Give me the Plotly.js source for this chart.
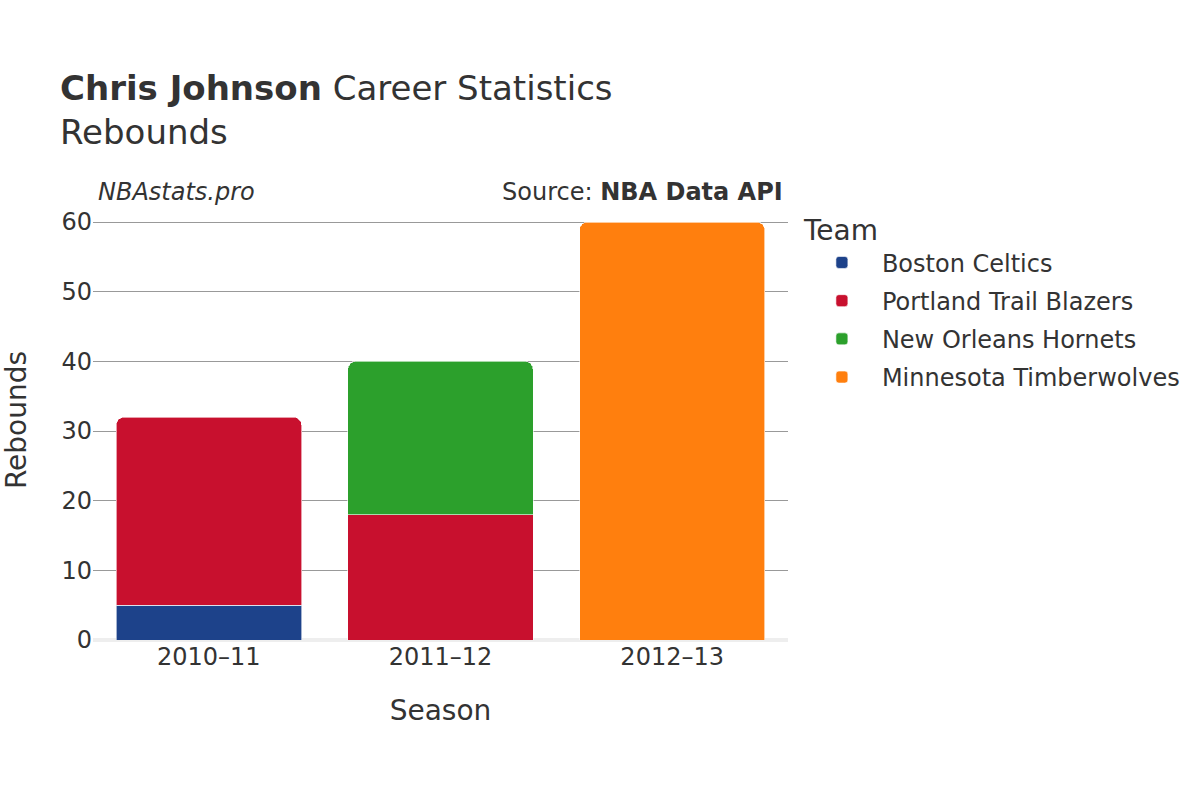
<!DOCTYPE html>
<html>
<head>
<meta charset="utf-8">
<script src="https://cdn.plot.ly/plotly-3.0.1.min.js"></script>
<style>html,body{margin:0;padding:0;background:#fff;}#chart{width:1200px;height:800px;}</style>
</head>
<body>
<div id="chart"></div>
<script>
const seasons = ["2010–11", "2011–12", "2012–13"];
const teams = ["Boston Celtics", "Portland Trail Blazers", "New Orleans Hornets", "Minnesota Timberwolves"];
const teamColors = ["#1D428A", "#C8102E", "#2CA02C", "#FF7F0E"];
const bostonRebounds = [5, null, null];
const portlandRebounds = [27, 18, null];
const hornetsRebounds = [null, 22, null];
const wolvesRebounds = [null, null, 60];
const seriesValues = [bostonRebounds, portlandRebounds, hornetsRebounds, wolvesRebounds];

const traces = teams.map((t, i) => ({
  type: 'bar',
  name: t,
  legendgroup: 'g' + i,
  x: seasons,
  y: seriesValues[i],
  marker: {color: teamColors[i], line: {color: 'rgba(255,255,255,0.6)', width: 1}},
  hoverinfo: 'x+y+name'
}));

const font = "DejaVu Sans, sans-serif";
const layout = {
  width: 1200, height: 800,
  font: {family: font, color: '#333', size: 24},
  paper_bgcolor: '#fff', plot_bgcolor: '#fff',
  barmode: 'stack',
  bargap: 0.2,
  barcornerradius: 8,
  margin: {l: 93, r: 412, t: 200, b: 160},
  title: {
    text: '<b>Chris Johnson</b> Career Statistics<br>Rebounds',
    x: 0.05, xanchor: 'left', y: 0.875, yanchor: 'top',
    font: {family: font, size: 34, color: '#333'}
  },
  xaxis: {
    title: {text: 'Season', font: {size: 28}, standoff: 30},
    tickfont: {size: 24},
    showgrid: false, showline: false, ticks: ''
  },
  yaxis: {
    title: {text: 'Rebounds', font: {size: 28}, standoff: 26},
    tickfont: {size: 24},
    range: [0, 63.16],
    dtick: 10,
    gridcolor: '#999', gridwidth: 1,
    zeroline: true, zerolinecolor: '#eee', zerolinewidth: 4,
    ticks: ''
  },
  legend: {
    title: {text: 'Team', font: {size: 28}},
    x: 1.02, xanchor: 'left', y: 0.991, yanchor: 'top',
    font: {size: 24},
    traceorder: 'grouped',
    itemwidth: 70,
    tracegroupgap: 4
  },
  annotations: [
    {text: '<i>NBAstats.pro</i>', xref: 'paper', yref: 'paper', x: 0.005, y: 1.0, xanchor: 'left', yanchor: 'bottom', yshift: -8, showarrow: false, font: {size: 24, color: '#333'}},
    {text: 'Source: <b>NBA Data API</b>', xref: 'paper', yref: 'paper', x: 0.995, y: 1.0, xanchor: 'right', yanchor: 'bottom', yshift: -8, showarrow: false, font: {size: 24, color: '#333'}}
  ]
};

Plotly.newPlot('chart', traces, layout, {displayModeBar: false});
</script>
</body>
</html>
